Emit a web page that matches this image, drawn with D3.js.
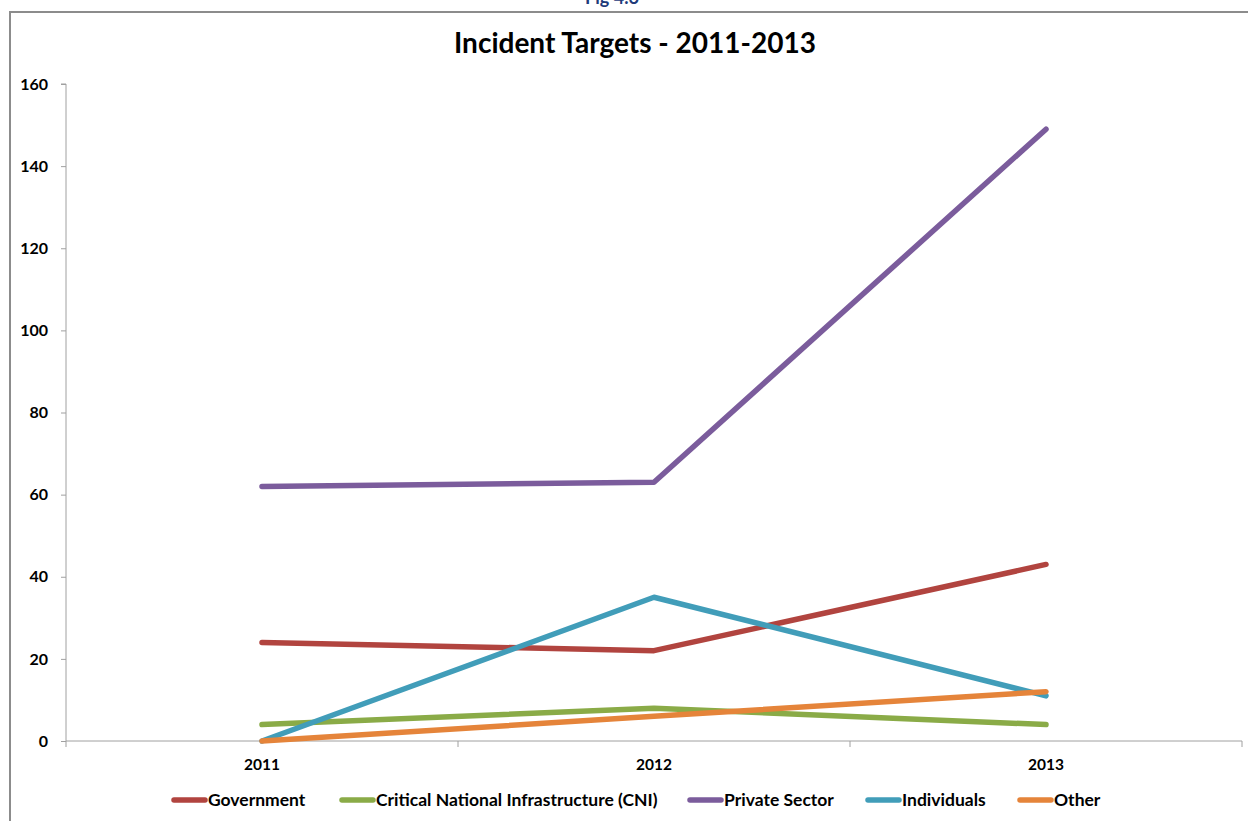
<!DOCTYPE html>
<html>
<head>
<meta charset="utf-8">
<script src="https://cdn.jsdelivr.net/npm/d3@7"></script>
<style>
  body { margin: 0; background: #fff; }
  svg { display: block; font-family: Lato, "Open Sans", sans-serif; }
</style>
</head>
<body>
<div class="chart"></div>
<script>
const years = ['2011', '2012', '2013'];
const seriesNames = ['Government', 'Critical National Infrastructure (CNI)', 'Private Sector', 'Individuals', 'Other'];
const government = [24, 22, 43];
const cni = [4, 8, 4];
const privateSector = [62, 63, 149];
const individuals = [0, 35, 11];
const other = [0, 6, 12];
const yTicks = [0, 20, 40, 60, 80, 100, 120, 140, 160];
const colors = ['#b1443f', '#8aab47', '#7b5c9c', '#419db9', '#e5843a'];

const series = [government, cni, privateSector, individuals, other].map((values, i) => ({
  name: seriesNames[i], color: colors[i], values
}));

const width = 1248, height = 821;
const svg = d3.select('.chart').append('svg')
  .attr('width', width)
  .attr('height', height);

// caption above the frame, mostly cut off (as in the source image)
svg.append('text')
  .attr('x', 612).attr('y', 4)
  .attr('text-anchor', 'middle')
  .attr('font-weight', 'bold')
  .attr('font-size', 18)
  .attr('fill', '#1f3b7a')
  .text('Fig 4.6');

// chart frame
svg.append('path')
  .attr('d', `M10,${height + 5}V12H${width + 5}`)
  .attr('fill', 'none')
  .attr('stroke', '#8c8c8c')
  .attr('stroke-width', 2);

svg.append('text')
  .attr('x', 635).attr('y', 53)
  .attr('text-anchor', 'middle')
  .attr('font-weight', 'bold')
  .attr('font-size', 28)
  .attr('fill', '#000')
  .text('Incident Targets - 2011-2013');

const plotLeft = 66, plotRight = 1242, plotTop = 84, plotBottom = 741;

const x = d3.scaleBand().domain(years).range([plotLeft, plotRight]);
const y = d3.scaleLinear().domain([0, 160]).range([plotBottom, plotTop]);

// y axis
const yAxis = svg.append('g')
  .attr('transform', `translate(${plotLeft},0)`)
  .call(d3.axisLeft(y).tickValues(yTicks).tickSize(5).tickPadding(13));
yAxis.select('.domain').attr('stroke', '#a0a0a0').attr('d', `M-5,${plotTop}H0V${plotBottom}`);
yAxis.selectAll('.tick line').attr('stroke', '#a0a0a0');
yAxis.selectAll('.tick text')
  .attr('font-family', 'Lato, sans-serif')
  .attr('font-size', 16).attr('font-weight', 'bold').attr('fill', '#000');

// x axis: ticks on band boundaries
const xg = svg.append('g').attr('transform', `translate(0,${plotBottom})`);
xg.append('line')
  .attr('x1', plotLeft).attr('x2', plotRight)
  .attr('stroke', '#a0a0a0');
const bounds = years.map(d => x(d)).concat([x(years[years.length - 1]) + x.bandwidth()]);
xg.selectAll('.xtick').data(bounds).enter().append('line')
  .attr('class', 'xtick')
  .attr('x1', d => d).attr('x2', d => d)
  .attr('y1', 0).attr('y2', 6)
  .attr('stroke', '#a0a0a0');
xg.selectAll('.xlabel').data(years).enter().append('text')
  .attr('class', 'xlabel')
  .attr('x', d => x(d) + x.bandwidth() / 2)
  .attr('y', 29)
  .attr('text-anchor', 'middle')
  .attr('font-size', 15.5).attr('font-weight', 'bold')
  .text(d => d);

const line = d3.line()
  .x((d, i) => x(years[i]) + x.bandwidth() / 2)
  .y(d => y(d));

svg.selectAll('.series').data(series).enter().append('path')
  .attr('class', 'series')
  .attr('d', d => line(d.values))
  .attr('fill', 'none')
  .attr('stroke', d => d.color)
  .attr('stroke-width', 5.5)
  .attr('stroke-linecap', 'round')
  .attr('stroke-linejoin', 'round');

// legend
const legendX = [172, 340, 688, 866, 1018];
const lg = svg.selectAll('.legend').data(series).enter().append('g')
  .attr('class', 'legend')
  .attr('transform', (d, i) => `translate(${legendX[i]},800)`);
lg.append('line')
  .attr('x1', 2).attr('x2', 33)
  .attr('stroke', d => d.color)
  .attr('stroke-width', 5.5)
  .attr('stroke-linecap', 'round');
lg.append('text')
  .attr('x', 36).attr('y', 6)
  .attr('font-size', 17.5).attr('font-weight', 'bold')
  .text(d => d.name);
</script>
</body>
</html>
